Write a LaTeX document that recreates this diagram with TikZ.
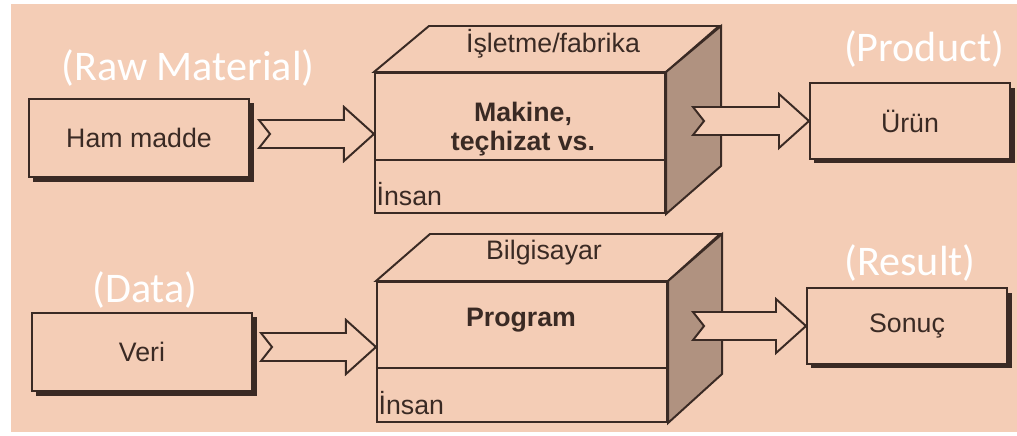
\documentclass[tikz,border=0pt]{standalone}
\usepackage{fontspec}
\setmainfont{Liberation Sans}
\newfontfamily\calib{Carlito}
\usetikzlibrary{calc,shadows}

\definecolor{paper}{RGB}{244,205,182}
\definecolor{ink}{RGB}{58,42,36}
\definecolor{sideface}{RGB}{176,146,128}

\tikzset{
  line/.style={draw=ink, line width=1.4pt, line join=miter},
  inbox/.style={line, fill=paper, minimum width=5.5cm, minimum height=1.95cm,
    text=ink, font=\fontsize{19}{21}\selectfont,
    drop shadow={shadow xshift=3.2pt, shadow yshift=-3.2pt, fill=ink, opacity=1}},
  outbox/.style={inbox, minimum width=5cm, minimum height=1.88cm},
  face/.style={line, fill=paper, minimum width=7.25cm, minimum height=3.5cm},
  side/.style={line, fill=sideface},
  txt/.style={text=ink, font=\fontsize{19}{21}\selectfont, inner sep=1pt},
  boldtxt/.style={txt, font=\fontsize{19}{21}\selectfont\bfseries, align=center},
  lbl/.style={text=white, font=\calib\fontsize{30}{32}\selectfont},
  barrow/.style={line, fill=paper}
}

% block arrow with a notched tail: tail point, tip point (same height)
\newcommand{\blockarrow}[2]{%
  \draw[barrow] ($#1+(0,-14)$) -- ($#2+(-30,-14)$) -- ($#2+(-30,-27)$) -- #2
    -- ($#2+(-30,27)$) -- ($#2+(-30,14)$) -- ($#1+(0,14)$) -- ($#1+(11,0)$) -- cycle;}

\begin{document}
\begin{tikzpicture}[x=0.025cm, y=-0.025cm]
\useasboundingbox (0,0) rectangle (1017,435);
\fill[white] (0,0) rectangle (1017,435);
\fill[paper] (11,4) rectangle (1017,432);

% inputs and outputs
\node[inbox] (ham) at (139,138) {Ham madde};
\node[inbox] (veri) at (142,352) {Veri};
\node[outbox] (urun) at (910,121) {Ürün};
\node[outbox] (sonuc) at (907,326) {Sonuç};

% upper block: isletme/fabrika
\node[face] (fab) at (520,143) {};
\draw[line, fill=paper] (fab.north west) -- ++(55,-46) -- ++(290,0) -- (fab.north east) -- cycle;
\draw[side] (fab.north east) -- ++(55,-46) -- ++(0,140) -- (fab.south east) -- cycle;
\draw[line] ($(fab.south west)+(0,-54)$) -- ($(fab.south east)+(0,-54)$);
\node[txt] (isl) at (553,44) {İşletme/fabrika};
\node[boldtxt] (makine) at (523,129) {Makine,\\teçhizat vs.};
\node[txt, anchor=base west] (insan1) at ($(fab.south west)+(1,-9)$) {İnsan};

% lower block: bilgisayar
\node[face] (bilg) at (522,352) {};
\draw[line, fill=paper] (bilg.north west) -- ++(54,-47) -- ++(290,0) -- (bilg.north east) -- cycle;
\draw[side] (bilg.north east) -- ++(54,-47) -- ++(0,140) -- (bilg.south east) -- cycle;
\draw[line] ($(bilg.south west)+(0,-55)$) -- ($(bilg.south east)+(0,-55)$);
\node[txt] (bil) at (544,253) {Bilgisayar};
\node[boldtxt] (prog) at (521,320) {Program};
\node[txt, anchor=base west] (insan2) at ($(bilg.south west)+(1,-9)$) {İnsan};

% arrows
\coordinate (a1) at ($(ham.east)+(9,-4)$);
\coordinate (b1) at (a1 -| fab.west);
\blockarrow{(a1)}{(b1)}
\coordinate (a2) at ($(fab.east |- urun.west)+(27,0)$);
\blockarrow{(a2)}{(urun.west)}
\coordinate (a3) at ($(veri.east)+(8,-5)$);
\coordinate (b3) at (a3 -| bilg.west);
\blockarrow{(a3)}{(b3)}
\coordinate (a4) at ($(bilg.east |- sonuc.west)+(25,0)$);
\blockarrow{(a4)}{(sonuc.west)}

% english labels
\node[lbl] (raw) at (188,68) {(Raw Material)};
\node[lbl] (product) at (924,49) {(Product)};
\node[lbl] (data) at (145,290) {(Data)};
\node[lbl] (result) at (910,263) {(Result)};
\end{tikzpicture}
\end{document}
